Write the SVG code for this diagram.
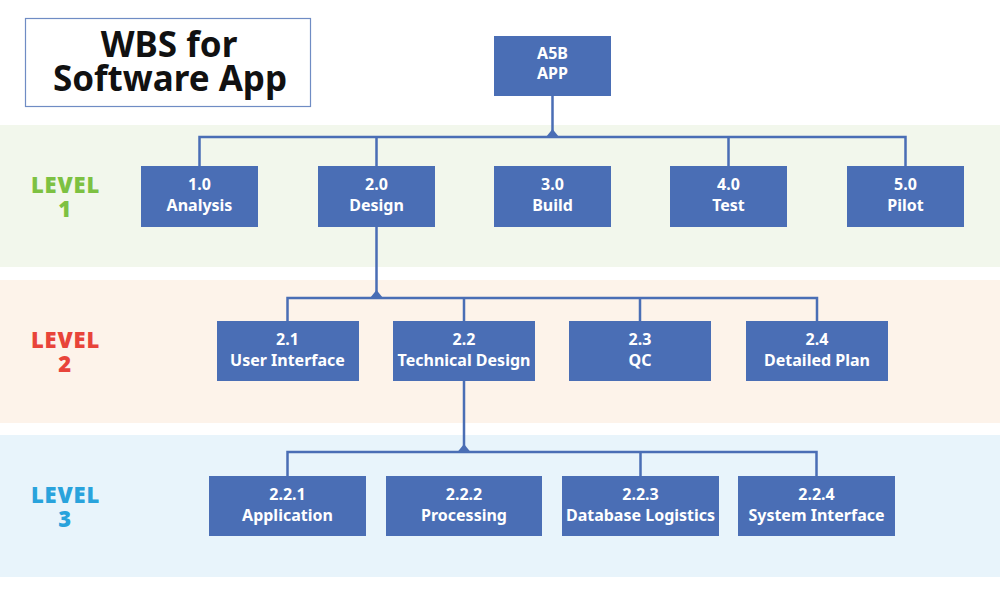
<svg xmlns="http://www.w3.org/2000/svg" width="1000" height="600" viewBox="0 0 1000 600">
<style>
.box{fill:#4a6eb5;}
.bt{fill:#fff;font-family:"Noto Sans","Open Sans",sans-serif;font-weight:700;font-size:16px;text-anchor:middle;}
.lv{font-family:"Noto Sans","Open Sans",sans-serif;font-weight:900;font-size:22px;letter-spacing:0.8px;text-anchor:middle;}
.ln{stroke:#4a6eb5;stroke-width:2.5;fill:none;}
.tri{fill:#4a6eb5;}
</style>
<rect width="1000" height="600" fill="#fff"/>
<rect x="0" y="125" width="1000" height="142" fill="#f2f7ec"/>
<rect x="0" y="280" width="1000" height="143" fill="#fdf3ea"/>
<rect x="0" y="435" width="1000" height="142" fill="#e8f4fb"/>
<g id="title">
<rect x="25.5" y="18.5" width="285" height="88" fill="#fff" stroke="#6f8cc4" stroke-width="1.2"/>
<text x="169" y="57" font-family="'Noto Sans','Open Sans',sans-serif" font-weight="700" font-size="35" text-anchor="middle" fill="#111">WBS for</text>
<text x="170" y="91" font-family="'Noto Sans','Open Sans',sans-serif" font-weight="700" font-size="35" text-anchor="middle" fill="#111">Software App</text>
</g>
<g id="levels">
<text class="lv" x="65.5" y="193" fill="#7dc142">LEVEL</text>
<text class="lv" x="65" y="217" fill="#7dc142">1</text>
<text class="lv" x="65.5" y="348" fill="#e8443a">LEVEL</text>
<text class="lv" x="65" y="372" fill="#e8443a">2</text>
<text class="lv" x="65.5" y="503" fill="#29a3dc">LEVEL</text>
<text class="lv" x="65" y="527" fill="#29a3dc">3</text>
</g>
<g id="connectors">
<path class="ln" d="M552.5 96V137M199.5 166V137H905.5V166M376.5 137V166M728.5 137V166"/>
<polygon class="tri" points="546,137 559,137 552.5,129"/>
<path class="ln" d="M376.5 227V298M287.5 321V298H817V321M464 298V321M640 298V321"/>
<polygon class="tri" points="370,298 383,298 376.5,290"/>
<path class="ln" d="M464 381V452M287.5 476V452H816.5V476M640.5 452V476"/>
<polygon class="tri" points="457.5,452 470.5,452 464,444"/>
</g>
<g id="root"><rect class="box" x="494" y="36" width="117" height="60"/><text class="bt" x="552.5" y="59">A5B</text><text class="bt" x="552.5" y="79">APP</text></g>
<g id="n1"><rect class="box" x="141" y="166" width="117" height="61"/><text class="bt" x="199.5" y="190">1.0</text><text class="bt" x="199.5" y="211">Analysis</text></g>
<g id="n2"><rect class="box" x="318" y="166" width="117" height="61"/><text class="bt" x="376.5" y="190">2.0</text><text class="bt" x="376.5" y="211">Design</text></g>
<g id="n3"><rect class="box" x="494" y="166" width="117" height="61"/><text class="bt" x="552.5" y="190">3.0</text><text class="bt" x="552.5" y="211">Build</text></g>
<g id="n4"><rect class="box" x="670" y="166" width="117" height="61"/><text class="bt" x="728.5" y="190">4.0</text><text class="bt" x="728.5" y="211">Test</text></g>
<g id="n5"><rect class="box" x="847" y="166" width="117" height="61"/><text class="bt" x="905.5" y="190">5.0</text><text class="bt" x="905.5" y="211">Pilot</text></g>
<g id="n21"><rect class="box" x="217" y="321" width="142" height="60"/><text class="bt" x="287.5" y="345">2.1</text><text class="bt" x="287.5" y="366">User Interface</text></g>
<g id="n22"><rect class="box" x="393" y="321" width="142" height="60"/><text class="bt" x="464" y="345">2.2</text><text class="bt" x="464" y="366">Technical Design</text></g>
<g id="n23"><rect class="box" x="569" y="321" width="142" height="60"/><text class="bt" x="640" y="345">2.3</text><text class="bt" x="640" y="366">QC</text></g>
<g id="n24"><rect class="box" x="746" y="321" width="142" height="60"/><text class="bt" x="817" y="345">2.4</text><text class="bt" x="817" y="366">Detailed Plan</text></g>
<g id="n221"><rect class="box" x="209" y="476" width="157" height="60"/><text class="bt" x="287.5" y="500">2.2.1</text><text class="bt" x="287.5" y="521">Application</text></g>
<g id="n222"><rect class="box" x="386" y="476" width="156" height="60"/><text class="bt" x="464" y="500">2.2.2</text><text class="bt" x="464" y="521">Processing</text></g>
<g id="n223"><rect class="box" x="562" y="476" width="157" height="60"/><text class="bt" x="640.5" y="500">2.2.3</text><text class="bt" x="640.5" y="521">Database Logistics</text></g>
<g id="n224"><rect class="box" x="738" y="476" width="157" height="60"/><text class="bt" x="816.5" y="500">2.2.4</text><text class="bt" x="816.5" y="521">System Interface</text></g>
</svg>
